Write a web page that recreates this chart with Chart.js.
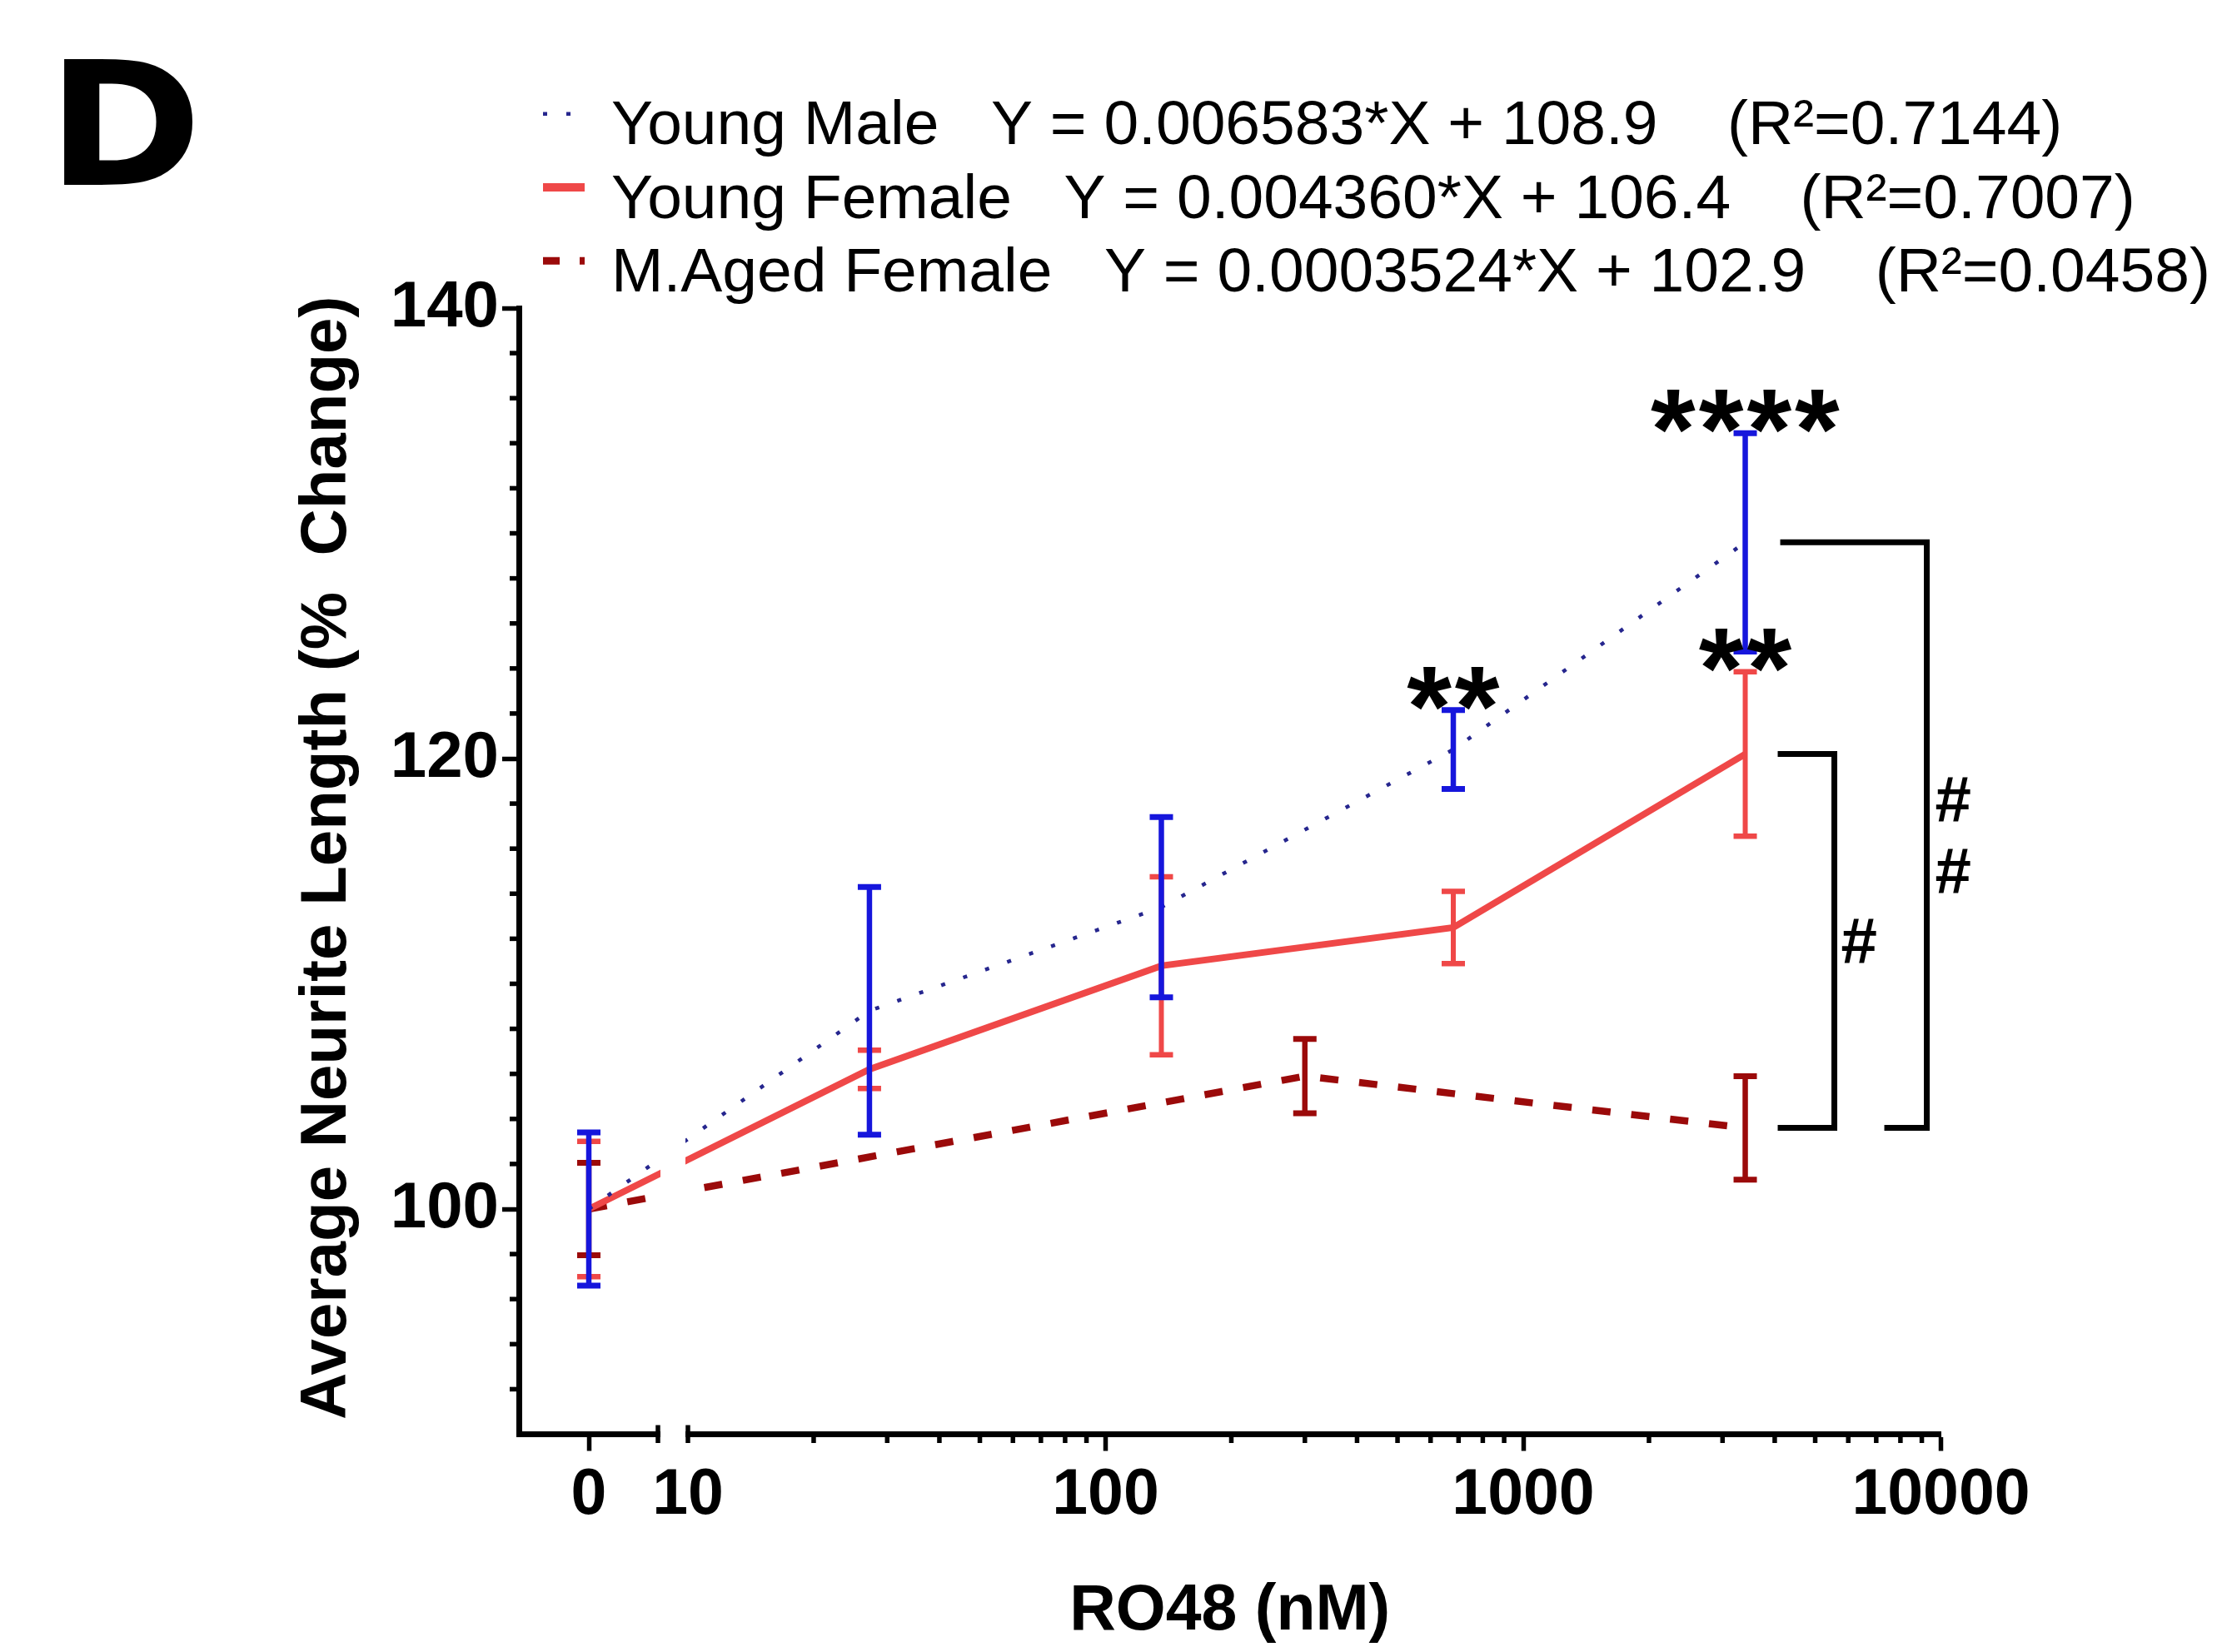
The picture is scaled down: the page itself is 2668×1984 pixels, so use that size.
<!DOCTYPE html>
<html>
<head>
<meta charset="utf-8">
<title>RO48 dose response – neurite length</title>
<script src="https://cdn.jsdelivr.net/npm/chart.js@4.4.1/dist/chart.umd.min.js"></script>
<style>
  html, body { margin: 0; padding: 0; background: #ffffff; }
  #wrap { width: 2668px; height: 1984px; position: relative; }
  canvas { display: block; }
</style>
</head>
<body>
<div id="wrap"><canvas id="chart" width="2668" height="1984"></canvas></div>
<script>
// ---- data -------------------------------------------------------------
const youngDoses = [0, 27.2, 136, 680, 3400];          // nM
const agedDoses = [0, 300, 3400];                        // nM

const youngMaleMean = [100, 108.8, 113.4, 120.4, 129.6];
const youngMaleSem = [3.4, 5.5, 4.0, 1.75, 4.85];

const youngFemaleMean = [100, 106.2, 110.8, 112.5, 120.2];
const youngFemaleSem = [3.0, 0.85, 3.95, 1.6, 3.65];

const agedFemaleMean = [100, 105.9, 103.6];
const agedFemaleSem = [2.05, 1.65, 2.3];

const seriesNames = ['Young Male', 'Young Female', 'M.Aged Female'];
const fitEquations = ['Y = 0.006583*X + 108.9', 'Y = 0.004360*X + 106.4', 'Y = 0.0003524*X + 102.9'];
const fitR2 = ['0.7144', '0.7007', '0.0458'];

const xTickLabels = [0, 10, 100, 1000, 10000];
const yTickLabels = [100, 120, 140];
const yAxisTitle = 'Average Neurite Length (%  Change)';

// significance vs. vehicle: [series, dose index, text]
const starMarks = [[0, 3, '**'], [0, 4, '****'], [1, 4, '**']];
// between-group comparisons at the top dose
const hashMarks = ['#', '##'];

// ---- colours ----------------------------------------------------------
const maleBar = '#1616dc';
const maleLine = '#26268e';
const femaleRed = '#ef4848';
const agedRed = '#9b0a0a';

const FONT = '"Liberation Sans", Arial, Helvetica, sans-serif';
Chart.defaults.font.family = FONT;
Chart.defaults.color = '#000';

// ---- x axis: a lone 0 slot, an axis break, then log10 from 10 upward ---
class BrokenLogScale extends Chart.Scale {
  determineDataLimits() {
    this.min = this.options.min;
    this.max = this.options.max;
  }
  buildTicks() {
    const ticks = [{ value: 0 }];
    const e0 = Math.log10(this.options.breakValue);
    const e1 = Math.log10(this.max);
    for (let e = e0; e < e1; e++) {
      for (let k = 1; k < 10; k++) ticks.push({ value: k * Math.pow(10, e) });
    }
    ticks.push({ value: this.max });
    ticks.forEach(t => { t.major = xTickLabels.includes(t.value); });
    return ticks;
  }
  configure() {
    super.configure();
    const o = this.options;
    this._uBreak = Math.log10(o.breakValue);
    this._uZero = this._uBreak - o.zeroGap;
    this._uStart = this._uZero - o.leadGap;
    this._uEnd = Math.log10(this.max);
  }
  _toU(v) {
    const b = this.options.breakValue;
    if (v >= b) return Math.log10(v);
    return this._uZero + (Math.max(v, 0) / b) * this.options.zeroGap * 0.5;
  }
  getPixelForValue(v) {
    return this.getPixelForDecimal((this._toU(v) - this._uStart) / (this._uEnd - this._uStart));
  }
  getValueForPixel(p) {
    const u = this._uStart + this.getDecimalForPixel(p) * (this._uEnd - this._uStart);
    return u >= this._uBreak ? Math.pow(10, u) : 0;
  }
  getLabelForValue(v) { return String(v); }
}
BrokenLogScale.id = 'brokenLog';
BrokenLogScale.defaults = {};
Chart.register(BrokenLogScale);

// ---- dataset builders -------------------------------------------------
function meanPoints(doses, mean) {
  return doses.map((d, i) => ({ x: d, y: mean[i] }));
}
function errorBarPoints(doses, mean, sem) {
  const pts = [];
  doses.forEach((d, i) => {
    pts.push({ x: d, y: mean[i] - sem[i] }, { x: d, y: mean[i] + sem[i] }, { x: d, y: null });
  });
  return pts;
}
function errorBarSet(doses, mean, sem, color, width, cap) {
  return {
    data: errorBarPoints(doses, mean, sem),
    borderColor: color, borderWidth: width,
    pointStyle: 'line', pointRadius: cap, pointBorderWidth: width + 0.5,
    pointBorderColor: color, pointBackgroundColor: color,
    spanGaps: false, tension: 0
  };
}
function meanLineSet(doses, mean, color, width, dash) {
  return {
    data: meanPoints(doses, mean),
    borderColor: color, borderWidth: width, borderDash: dash,
    borderCapStyle: 'butt', pointRadius: 0, tension: 0
  };
}

const datasets = [
  errorBarSet(youngDoses, youngMaleMean, youngMaleSem, maleBar, 6.5, 14),
  meanLineSet(youngDoses, youngMaleMean, maleLine, 4.5, [5, 23]),
  errorBarSet(youngDoses, youngFemaleMean, youngFemaleSem, femaleRed, 6, 14),
  meanLineSet(youngDoses, youngFemaleMean, femaleRed, 8, []),
  errorBarSet(agedDoses, agedFemaleMean, agedFemaleSem, agedRed, 6.5, 14),
  meanLineSet(agedDoses, agedFemaleMean, agedRed, 8.5, [22, 25])
];

// ---- drawing helpers --------------------------------------------------
function seg(ctx, x1, y1, x2, y2) {
  ctx.beginPath(); ctx.moveTo(x1, y1); ctx.lineTo(x2, y2); ctx.stroke();
}
function centeredText(ctx, text, cx, cy) {
  const m = ctx.measureText(text);
  const left = cx - (m.actualBoundingBoxRight - m.actualBoundingBoxLeft) / 2;
  const base = cy + (m.actualBoundingBoxAscent - m.actualBoundingBoxDescent) / 2;
  ctx.fillText(text, left + m.actualBoundingBoxLeft, base);
}

const decorations = {
  id: 'decorations',
  afterDatasetsDraw(chart) {
    const { ctx, chartArea: a, scales: { x, y } } = chart;
    ctx.save();
    ctx.strokeStyle = '#000';
    ctx.fillStyle = '#000';
    ctx.lineCap = 'butt';

    // minor tick marks
    ctx.lineWidth = 5.5;
    x.ticks.forEach(t => {
      if (t.major) return;
      const px = x.getPixelForValue(t.value);
      seg(ctx, px, a.bottom, px, a.bottom + 10.5);
    });
    y.ticks.forEach(t => {
      if (yTickLabels.includes(t.value) || t.value <= y.min) return;
      const py = y.getPixelForValue(t.value);
      seg(ctx, a.left - 11, py, a.left, py);
    });

    // axis break between the 0 slot and the log segment
    const pBreak = x.getPixelForValue(x.options.breakValue);
    const pGap = pBreak - 36;
    ctx.fillStyle = '#fff';
    ctx.fillRect(pGap + 3, a.top, pBreak - pGap - 6, a.bottom - a.top + 5);
    ctx.fillStyle = '#000';
    ctx.lineWidth = 5.5;
    seg(ctx, pGap, a.bottom - 11, pGap, a.bottom + 10.5);
    seg(ctx, pBreak, a.bottom - 11, pBreak, a.bottom + 10.5);

    // comparison brackets at the top dose
    const last = youngDoses.length - 1;
    const xl = x.getPixelForValue(youngDoses[last]);
    const yMale = y.getPixelForValue(youngMaleMean[last]);
    const yFem = y.getPixelForValue(youngFemaleMean[last]);
    const yAged = y.getPixelForValue(agedFemaleMean[agedFemaleMean.length - 1]);
    ctx.lineWidth = 7;
    ctx.lineJoin = 'miter';
    ctx.beginPath();
    ctx.moveTo(xl + 39, yFem); ctx.lineTo(xl + 107, yFem);
    ctx.lineTo(xl + 107, yAged); ctx.lineTo(xl + 39, yAged);
    ctx.stroke();
    ctx.beginPath();
    ctx.moveTo(xl + 42, yMale); ctx.lineTo(xl + 218, yMale);
    ctx.lineTo(xl + 218, yAged); ctx.lineTo(xl + 167, yAged);
    ctx.stroke();

    ctx.font = 'bold 78px ' + FONT;
    centeredText(ctx, hashMarks[0], xl + 138, (yFem + yAged) / 2);
    const midOuter = (yMale + yAged) / 2;
    hashMarks[1].split('').forEach((h, i) => {
      centeredText(ctx, h, xl + 251, midOuter - 43 + i * 86);
    });

    // significance stars above the error bars
    const means = [youngMaleMean, youngFemaleMean];
    const sems = [youngMaleSem, youngFemaleSem];
    ctx.font = 'bold 138px ' + FONT;
    if ('letterSpacing' in ctx) ctx.letterSpacing = '4px';
    starMarks.forEach(([s, i, txt]) => {
      const px = x.getPixelForValue(youngDoses[i]);
      const top = y.getPixelForValue(means[s][i] + sems[s][i]);
      centeredText(ctx, txt, px, top - 26);
    });
    if ('letterSpacing' in ctx) ctx.letterSpacing = '0px';
    ctx.restore();
  },
  afterDraw(chart) {
    const { ctx, chartArea: a, scales: { y } } = chart;
    ctx.save();

    // y-axis title, rotated, sitting a little above the axis centre
    ctx.save();
    ctx.font = 'bold 78px ' + FONT;
    ctx.fillStyle = '#000';
    ctx.textAlign = 'center';
    ctx.textBaseline = 'middle';
    ctx.translate(y.left + 93, (a.top + a.bottom) / 2 - 16);
    ctx.rotate(-Math.PI / 2);
    ctx.fillText(yAxisTitle, 0, 0);
    ctx.restore();

    // legend: line sample + group name + linear fit
    const samples = [
      { color: maleLine, width: 4.5, dash: [5, 23] },
      { color: femaleRed, width: 10, dash: [] },
      { color: agedRed, width: 9, dash: [20, 24] }
    ];
    ctx.font = '75px ' + FONT;
    ctx.fillStyle = '#000';
    ctx.textAlign = 'left';
    ctx.textBaseline = 'alphabetic';
    seriesNames.forEach((name, i) => {
      const base = 173.3 + i * 88.3;
      ctx.strokeStyle = samples[i].color;
      ctx.lineWidth = samples[i].width;
      ctx.setLineDash(samples[i].dash);
      ctx.lineCap = 'butt';
      seg(ctx, 652, base - 36.6, 702, base - 36.6);
      ctx.setLineDash([]);
      ctx.fillText(name + '   ' + fitEquations[i] + '    (R\u00B2=' + fitR2[i] + ')', 734, base);
    });

    // panel letter
    ctx.font = 'bold 207px "DejaVu Sans", ' + FONT;
    const m = ctx.measureText('D');
    const inkW = m.actualBoundingBoxLeft + m.actualBoundingBoxRight;
    const sx = 155 / inkW;
    ctx.translate(77, 221.7);
    ctx.scale(sx, 1);
    ctx.fillText('D', m.actualBoundingBoxLeft, 0);
    ctx.restore();
  }
};

// ---- chart ------------------------------------------------------------
new Chart(document.getElementById('chart'), {
  type: 'line',
  data: { datasets },
  plugins: [decorations],
  options: {
    responsive: false,
    animation: false,
    devicePixelRatio: 1,
    layout: { padding: { top: 370, left: 300, right: 337.5, bottom: 0 } },
    plugins: { legend: { display: false }, tooltip: { enabled: false } },
    scales: {
      x: {
        type: 'brokenLog',
        min: 0, max: 10000,
        breakValue: 10, zeroGap: 0.2373, leadGap: 0.1675,
        afterFit: s => { s.height = 261.5; },
        border: { display: true, color: '#000', width: 7 },
        grid: {
          drawOnChartArea: false, drawTicks: true, tickLength: 20, tickWidth: 5.5,
          tickColor: c => (c.tick && c.tick.major && c.tick.value !== 10) ? '#000' : 'rgba(0,0,0,0)'
        },
        ticks: {
          autoSkip: false, maxRotation: 0, minRotation: 0, padding: 8,
          font: { size: 77, weight: 'bold' }, color: '#000',
          callback: v => xTickLabels.includes(v) ? String(v) : ''
        },
        title: {
          display: true, text: 'RO48 (nM)', color: '#000',
          font: { size: 77, weight: 'bold' }, padding: { top: 0, bottom: 2 }
        }
      },
      y: {
        type: 'linear',
        min: 90, max: 140,
        afterFit: s => { s.width = 323; },
        border: { display: true, color: '#000', width: 7 },
        grid: {
          drawOnChartArea: false, drawTicks: true, tickLength: 20, tickWidth: 5.5,
          tickColor: c => (c.tick && yTickLabels.includes(c.tick.value)) ? '#000' : 'rgba(0,0,0,0)'
        },
        ticks: {
          stepSize: 2, autoSkip: false, padding: 4,
          font: { size: 78, weight: 'bold' }, color: '#000',
          callback: v => yTickLabels.includes(v) ? String(v) : ''
        },
        title: { display: false }
      }
    }
  }
});
</script>
</body>
</html>
